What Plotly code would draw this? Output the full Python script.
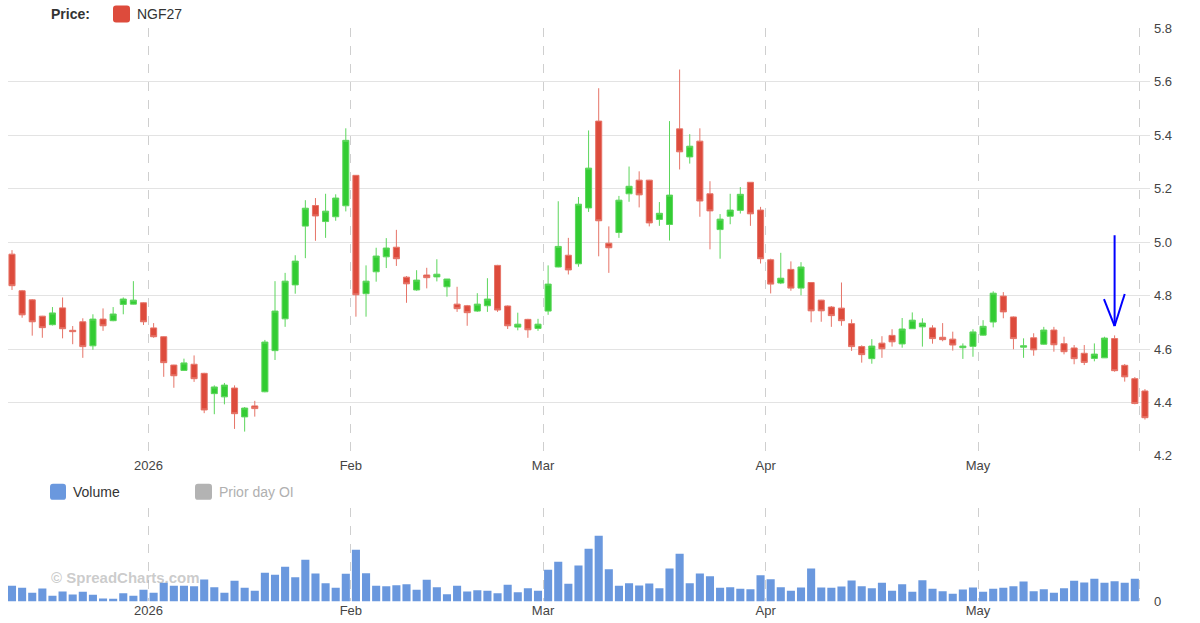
import plotly.graph_objects as go

# ---------------- data ----------------
opens = [4.955, 4.818, 4.784, 4.723, 4.691, 4.754, 4.670, 4.702, 4.612, 4.712,
         4.706, 4.767, 4.768, 4.773, 4.679, 4.646, 4.540, 4.520, 4.543, 4.509,
         4.433, 4.421, 4.454, 4.346, 4.387, 4.440, 4.594, 4.713, 4.840, 5.060,
         5.137, 5.077, 5.095, 5.136, 5.250, 4.807, 4.889, 4.945, 4.981, 4.869,
         4.821, 4.877, 4.870, 4.833, 4.768, 4.762, 4.742, 4.762, 4.913, 4.761,
         4.682, 4.711, 4.677, 4.742, 4.907, 4.951, 4.919, 5.128, 5.453, 4.996,
         5.036, 5.181, 5.232, 5.232, 5.085, 5.066, 5.424, 5.319, 5.378, 5.181,
         5.047, 5.097, 5.119, 5.224, 5.120, 4.934, 4.847, 4.898, 4.828, 4.849,
         4.783, 4.757, 4.753, 4.695, 4.609, 4.564, 4.622, 4.651, 4.619, 4.676,
         4.683, 4.679, 4.644, 4.637, 4.605, 4.610, 4.652, 4.701, 4.798, 4.720,
         4.607, 4.642, 4.618, 4.671, 4.620, 4.604, 4.584, 4.565, 4.567, 4.639,
         4.539, 4.489, 4.443]
highs = [4.970, 4.821, 4.787, 4.724, 4.757, 4.793, 4.686, 4.715, 4.730, 4.752,
         4.757, 4.793, 4.854, 4.775, 4.697, 4.648, 4.541, 4.564, 4.576, 4.511,
         4.464, 4.473, 4.464, 4.383, 4.406, 4.634, 4.854, 4.885, 4.951, 5.157,
         5.165, 5.181, 5.179, 5.426, 5.251, 4.913, 4.979, 5.015, 5.046, 4.873,
         4.895, 4.904, 4.936, 4.862, 4.833, 4.765, 4.809, 4.865, 4.915, 4.763,
         4.736, 4.713, 4.713, 4.913, 5.153, 5.016, 5.169, 5.418, 5.576, 5.059,
         5.173, 5.283, 5.265, 5.233, 5.150, 5.453, 5.646, 5.404, 5.426, 5.228,
         5.105, 5.181, 5.206, 5.225, 5.132, 4.938, 4.960, 4.928, 4.925, 4.850,
         4.784, 4.761, 4.849, 4.711, 4.614, 4.637, 4.648, 4.674, 4.716, 4.737,
         4.715, 4.689, 4.697, 4.665, 4.621, 4.674, 4.708, 4.816, 4.813, 4.722,
         4.640, 4.659, 4.683, 4.683, 4.646, 4.615, 4.615, 4.621, 4.646, 4.651,
         4.544, 4.495, 4.450]
lows = [4.821, 4.717, 4.650, 4.642, 4.688, 4.640, 4.618, 4.567, 4.597, 4.668,
        4.704, 4.730, 4.767, 4.690, 4.642, 4.496, 4.455, 4.519, 4.477, 4.360,
        4.356, 4.393, 4.301, 4.291, 4.347, 4.438, 4.559, 4.683, 4.807, 4.940,
        5.005, 5.016, 5.080, 5.115, 4.721, 4.721, 4.852, 4.903, 4.911, 4.773,
        4.818, 4.827, 4.853, 4.796, 4.739, 4.687, 4.739, 4.739, 4.739, 4.675,
        4.670, 4.642, 4.668, 4.728, 4.906, 4.879, 4.908, 5.113, 4.947, 4.885,
        5.016, 5.151, 5.130, 5.059, 5.061, 5.006, 5.272, 5.294, 5.095, 4.973,
        4.938, 5.067, 5.107, 5.061, 4.920, 4.808, 4.843, 4.818, 4.801, 4.700,
        4.702, 4.683, 4.687, 4.593, 4.549, 4.545, 4.567, 4.609, 4.605, 4.675,
        4.609, 4.620, 4.629, 4.594, 4.563, 4.571, 4.650, 4.681, 4.715, 4.599,
        4.567, 4.575, 4.616, 4.590, 4.580, 4.543, 4.540, 4.554, 4.567, 4.515,
        4.478, 4.393, 4.336]
closes = [4.837, 4.728, 4.702, 4.680, 4.735, 4.676, 4.665, 4.609, 4.712, 4.687,
          4.731, 4.787, 4.783, 4.702, 4.646, 4.549, 4.500, 4.548, 4.489, 4.372,
          4.458, 4.465, 4.358, 4.379, 4.377, 4.626, 4.742, 4.854, 4.929, 5.127,
          5.098, 5.116, 5.165, 5.381, 4.803, 4.854, 4.948, 4.978, 4.938, 4.844,
          4.858, 4.867, 4.880, 4.862, 4.751, 4.736, 4.768, 4.787, 4.746, 4.687,
          4.693, 4.672, 4.693, 4.843, 4.984, 4.896, 5.142, 5.277, 5.080, 4.979,
          5.157, 5.209, 5.177, 5.072, 5.108, 5.176, 5.338, 5.359, 5.154, 5.117,
          5.086, 5.120, 5.179, 5.106, 4.938, 4.843, 4.865, 4.828, 4.907, 4.743,
          4.743, 4.725, 4.706, 4.609, 4.579, 4.611, 4.601, 4.627, 4.675, 4.708,
          4.697, 4.639, 4.635, 4.615, 4.611, 4.664, 4.685, 4.809, 4.739, 4.639,
          4.612, 4.597, 4.671, 4.616, 4.590, 4.564, 4.550, 4.581, 4.641, 4.519,
          4.496, 4.396, 4.343]
volumes = [1570, 1370, 870, 1300, 570, 1000, 700, 970, 670, 300,
           270, 830, 570, 1170, 870, 1870, 1570, 1570, 1530, 2200,
           1430, 870, 2070, 1370, 1070, 2870, 2670, 3470, 2430, 4170,
           2800, 1830, 1370, 2770, 5170, 2830, 1570, 1530, 1630, 1730,
           1170, 2170, 1430, 730, 1570, 1000, 1130, 1070, 830, 1670,
           930, 1330, 1070, 3170, 3970, 1770, 3600, 5270, 6570, 3230,
           1570, 1830, 1600, 1800, 1330, 3300, 4770, 1830, 2800, 2530,
           1370, 1430, 1270, 1230, 2630, 2230, 1430, 1070, 1400, 3300,
           1400, 1370, 1500, 2100, 1530, 1330, 1870, 1070, 1730, 970,
           2130, 1270, 1030, 770, 1200, 1400, 970, 1270, 1370, 1530,
           2000, 1030, 1230, 870, 1330, 2070, 1900, 2270, 1870, 2030,
           1870, 2270, 0]

# month boundaries: index of first trading session of each month
month_labels = ["2026", "Feb", "Mar", "Apr", "May", ""]
month_first_idx = [14, 34, 53, 75, 96, 112]

symbol = "NGF27"
arrow_idx = 109

# ---------------- figure ----------------
W, H = 1200, 623
n = len(closes)
idx = list(range(n))

# the page is photographed with a slight vertical squeeze/offset; compensate
V_OFF, V_SCALE = 6.6, 0.977


def px(x):
    return x / W


def py(y):
    return 1 - ((y - V_OFF) / V_SCALE) / H


PLOT_L, PLOT_R = 8, 1150
x_range = [-0.395, 112.5]
tickvals = [i - 0.5 for i in month_first_idx]

RED = "#dd4b3c"
GREEN = "#33cc33"
BLUE = "#6a98de"
FONT = "Liberation Sans, Arial, sans-serif"

fig = go.Figure()

fig.add_trace(go.Candlestick(
    x=idx, open=opens, high=highs, low=lows, close=closes,
    xaxis="x", yaxis="y",
    increasing=dict(line=dict(color="#5cd65c", width=1), fillcolor=GREEN),
    decreasing=dict(line=dict(color="#e67468", width=1), fillcolor=RED),
    whiskerwidth=0, name=symbol, showlegend=False,
))

fig.add_trace(go.Bar(
    x=idx, y=volumes, xaxis="x2", yaxis="y2",
    marker=dict(color=BLUE, line=dict(width=0)),
    name="Volume", showlegend=False,
))

axis_common = dict(
    range=x_range, domain=[px(PLOT_L), px(PLOT_R)],
    tickmode="array", tickvals=tickvals, ticktext=month_labels,
    showgrid=True, gridcolor="#cfcfcf", griddash="dash", gridwidth=1,
    zeroline=False, showline=False, ticks="",
    tickfont=dict(family=FONT, size=13, color="#444"),
    fixedrange=True,
)

fig.update_layout(
    width=W, height=H, autosize=False,
    margin=dict(l=0, r=0, t=0, b=0),
    paper_bgcolor="white", plot_bgcolor="white",
    showlegend=False,
    boxgap=0.4, boxgroupgap=0,
    bargap=0.2,
    xaxis=dict(axis_common, anchor="y", rangeslider=dict(visible=False)),
    xaxis2=dict(axis_common, anchor="y2"),
    yaxis=dict(
        domain=[py(456), py(28)], range=[4.2, 5.8], side="right",
        anchor="x", dtick=0.2, tick0=4.2, tickformat=".1f",
        showgrid=True, gridcolor="#e3e3e3", gridwidth=1,
        zeroline=False, showline=False, ticks="", ticklabelstandoff=3,
        tickfont=dict(family=FONT, size=13, color="#444"),
    ),
    yaxis2=dict(
        domain=[py(601.7), py(508)], range=[0, 9370], side="right",
        anchor="x2", tickmode="array", tickvals=[0], ticktext=["0"],
        showgrid=False, zeroline=False, showline=False, ticks="", ticklabelstandoff=3,
        tickfont=dict(family=FONT, size=13, color="#444"),
    ),
)


def rounded_rect(x0, y0, x1, y1, r=3):
    rx, ry = r / W, r / H
    X0, X1 = px(x0), px(x1)
    Y0, Y1 = py(y1), py(y0)  # bottom, top in paper
    return (f"M {X0+rx},{Y1} L {X1-rx},{Y1} Q {X1},{Y1} {X1},{Y1-ry} "
            f"L {X1},{Y0+ry} Q {X1},{Y0} {X1-rx},{Y0} L {X0+rx},{Y0} "
            f"Q {X0},{Y0} {X0},{Y0+ry} L {X0},{Y1-ry} Q {X0},{Y1} {X0+rx},{Y1} Z")


shapes = []
for (x0, y0, x1, y1, col) in [(113, 5, 130, 22, RED),
                              (50, 484, 66, 500, BLUE),
                              (195, 484, 212, 500, "#b3b3b3")]:
    shapes.append(dict(type="path", xref="paper", yref="paper",
                       path=rounded_rect(x0, y0, x1, y1), fillcolor=col,
                       line=dict(width=0), layer="above"))

# blue arrow above the flagged candle
tip = highs[arrow_idx] + 0.035
arrow_line = dict(color="#0000ff", width=2)
shapes.append(dict(type="line", xref="x", yref="y", x0=arrow_idx, x1=arrow_idx,
                   y0=tip + 0.34, y1=tip, line=arrow_line))
shapes.append(dict(type="line", xref="x", yref="y", x0=arrow_idx - 1.05, x1=arrow_idx,
                   y0=tip + 0.101, y1=tip, line=arrow_line))
shapes.append(dict(type="line", xref="x", yref="y", x0=arrow_idx + 1.0, x1=arrow_idx,
                   y0=tip + 0.12, y1=tip, line=arrow_line))
fig.update_layout(shapes=shapes)

ann = [
    dict(text="<b>Price:</b>", x=px(49), y=py(14), xanchor="left", yanchor="middle",
         font=dict(family=FONT, size=14, color="#333")),
    dict(text=symbol, x=px(135), y=py(14), xanchor="left", yanchor="middle",
         font=dict(family=FONT, size=14, color="#333")),
    dict(text="Volume", x=px(71), y=py(492), xanchor="left", yanchor="middle",
         font=dict(family=FONT, size=14, color="#333")),
    dict(text="Prior day OI", x=px(217), y=py(492), xanchor="left", yanchor="middle",
         font=dict(family=FONT, size=14, color="#b0b0b0")),
    dict(text="<b>© SpreadCharts.com</b>", x=px(49), y=py(578), xanchor="left",
         yanchor="middle", font=dict(family=FONT, size=15, color="rgba(160,160,160,0.55)")),
]
for a in ann:
    a.update(xref="paper", yref="paper", showarrow=False)
fig.update_layout(annotations=ann)

fig.write_html(
    "out.html",
    config={"responsive": False, "displayModeBar": False},
)
